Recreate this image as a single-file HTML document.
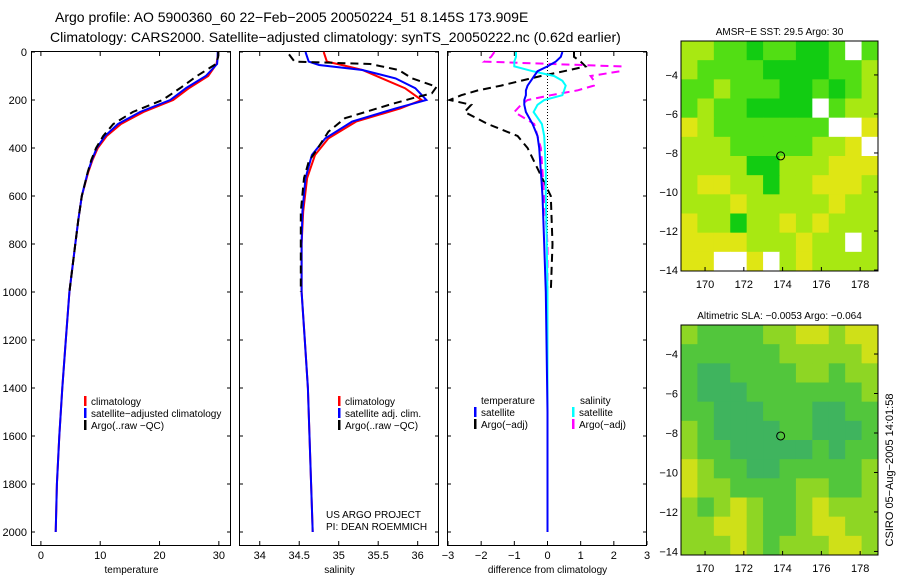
<!DOCTYPE html>
<html><head><meta charset="utf-8"><style>
body{margin:0;background:#fff;width:900px;height:580px;overflow:hidden}
svg{font-family:"Liberation Sans",sans-serif}
</style></head><body>
<svg id="fig" width="900" height="580" xmlns="http://www.w3.org/2000/svg">
<text x="55" y="22" font-size="14">Argo profile: AO 5900360_60 22−Feb−2005 20050224_51 8.145S 173.909E</text>
<text x="50" y="42" font-size="14">Climatology: CARS2000. Satellite−adjusted climatology: synTS_20050222.nc (0.62d earlier)</text>
<g id="g"></g>
<text transform="translate(893,470) rotate(-90)" text-anchor="middle" font-size="11">CSIRO 05−Aug−2005 14:01:58</text>
</svg>
<script>
const depths=[0,20,50,100,150,200,250,300,350,400,450,500,600,700,800,1000,1200,1400,1600,1800,2000];
const climT=[29.9,29.8,29.6,28.2,25.0,22.3,17.3,13.5,11.1,9.6,8.7,8.0,6.9,6.3,5.8,4.8,4.2,3.6,3.1,2.7,2.5];
const adjT=[29.8,29.8,29.7,27.8,24.5,21.8,16.7,13.0,10.8,9.4,8.6,7.9,6.9,6.3,5.8,4.8,4.2,3.6,3.1,2.7,2.5];
const argoT=[29.9,29.9,29.5,26.3,23.5,20.5,15.5,12.2,10.5,9.3,8.5,7.9,6.9,6.3,5.8,4.8,null,null,null,null,null];
const sDepth=[0,40,54,75,110,151,200,235,290,360,429,526,665,800,1000,1200,1400,1600,1800,2000];
const climS=[34.81,34.85,35.04,35.3,35.55,35.84,36.05,35.78,35.22,34.87,34.7,34.6,34.55,34.53,34.53,34.57,34.61,34.63,34.65,34.67];
const adjS=[34.58,34.62,34.75,35.3,35.72,35.97,36.11,35.72,35.17,34.83,34.66,34.58,34.54,34.53,34.53,34.57,34.61,34.63,34.65,34.67];
const argoDepth=[10,40,50,75,110,145,172,193,221,276,332,388,457,526,665,800,1000];
const argoS=[34.37,34.44,35.4,35.76,35.93,36.24,36.18,35.93,35.63,35.08,34.87,34.76,34.62,34.56,34.52,34.52,34.52];
const dDepth=[0,20,40,60,80,100,120,140,160,180,200,220,250,300,350,400,500,600,800,1000,1500,2000];
const dTsat=[0.45,0.4,0.25,0.0,-0.3,-0.4,-0.5,-0.6,-0.65,-0.65,-0.7,-0.7,-0.65,-0.45,-0.3,-0.25,-0.2,-0.15,-0.1,-0.05,0,0];
const dSsat=[-0.95,-0.95,-1.0,-1.0,-0.45,0.2,0.45,0.55,0.5,0.45,-0.1,-0.3,-0.42,-0.17,-0.1,-0.08,-0.05,-0.05,-0.02,0,0,0];
const dTargo=[0.8,0.8,1.0,1.15,0.5,-0.2,-0.8,-1.4,-2.1,-2.6,-2.95,-2.3,-2.5,-1.8,-0.9,-0.6,-0.25,0.1,0.15,0.1,null,null];
const dSargo=[-1.6,-1.7,-1.9,2.2,2.2,1.3,1.4,1.4,0.9,0.1,-0.6,-0.8,-1.0,-0.4,-0.3,-0.2,-0.15,-0.1,0,0,null,null];
const depthTicks=[0,200,400,600,800,1000,1200,1400,1600,1800,2000];
const tTicks=[0,10,20,30], sTicks=[34,34.5,35,35.5,36], dTicks=[-3,-2,-1,0,1,2,3];
const sstGrid=["2211011001W1","211110000112","112111001012","12110000W122","321111111WW3","22211111223W","222200222333","233220223332","222322222322","322022323222","33332223 2W2".replace(' ','2'),"33WW3W232222"];
const slaGrid=["211112233233","111111222223","100111122122","100011111112","110001110011","210000110001","211000001011","321100111112","322111122112","212321123222","223321123322","222321222332"];
const sstColors=["#12cc12","#52de14","#a8e812","#dfe614","#f0c814"];
const slaColors=["#3fb45e","#52c63c","#8ed624","#cfe018"];
const mapLon=[168.76,178.92], sstLat=[-2.26,-14.05], slaLat=[-2.53,-14.18];

const NS="http://www.w3.org/2000/svg", G=document.getElementById('g');
function el(t,a,p){const e=document.createElementNS(NS,t);for(const k in a)e.setAttribute(k,a[k]);(p||G).appendChild(e);return e;}
const yD=d=>52+d*0.24;
function panel(x0,x1,lo,hi,ticks,xlabel,name,fmt){
  const sx=v=>x0+(v-lo)/(hi-lo)*(x1-x0);
  const g=el('g',{});
  
  
  const r=el('rect',{x:x0-0.5,y:51.5,width:x1-x0,height:494,fill:'none',stroke:'#000'},g);
  
  
  for(const t of ticks){const X=sx(t);
    el('line',{x1:X,y1:545,x2:X,y2:541,stroke:'#000'},g);el('line',{x1:X,y1:52,x2:X,y2:56,stroke:'#000'},g);
    const tx=el('text',{x:X,y:559,'font-size':11,'text-anchor':'middle'},g);tx.textContent=fmt?fmt(t):t;
    
    }
  for(const d of depthTicks){el('line',{x1:x0-0.5,y1:yD(d),x2:x0+3,y2:yD(d),stroke:'#000'},g);el('line',{x1:x1-4,y1:yD(d),x2:x1-0.5,y2:yD(d),stroke:'#000'},g);}
  const xl=el('text',{x:(x0+x1)/2,y:573,'font-size':10,'text-anchor':'middle'},g);xl.textContent=xlabel;
  
  
  return sx;
}
function line(sx,vals,ds,color,w,dash,name){
  let d='',pen=false;
  vals.forEach((v,i)=>{if(v==null){pen=false;return;}d+=(pen?'L':'M')+sx(v).toFixed(1)+','+yD(ds[i]).toFixed(1);pen=true;});
  const p=el('path',{d:d,fill:'none',stroke:color,'stroke-width':w});
  if(dash)p.setAttribute('stroke-dasharray',dash);
  
  
}
function legend(x,y,items){items.forEach((it,i)=>{
  const yy=y+i*12;el('rect',{x:x,y:yy-9,width:2.5,height:10,fill:it[1]});
  const t=el('text',{x:x+7,y:yy,'font-size':10});t.textContent=it[0];
  
  });}
for(const d of depthTicks){const t=el('text',{x:27,y:yD(d)+4,'font-size':11,'text-anchor':'end'});t.textContent=d;
  
  }
const sT=panel(32,231,-1.5,32.05,tTicks,'temperature','temperature-panel');
line(sT,climT,depths,'#f00',2,null,'climatology-temp-line');
line(sT,adjT,depths,'#00f',2,null,'sat-adjusted-temp-line');
line(sT,argoT,depths,'#000',2,'8,5','argo-temp-line');
legend(84,405,[['climatology','#f00'],['satellite−adjusted climatology','#00f'],['Argo(..raw −QC)','#000']]);
const sS=panel(240,439,33.75,36.27,sTicks,'salinity','salinity-panel');
line(sS,climS,sDepth,'#f00',2,null,'climatology-salinity-line');
line(sS,adjS,sDepth,'#00f',2,null,'sat-adjusted-salinity-line');
line(sS,argoS,argoDepth,'#000',2,'8,5','argo-salinity-line');
legend(338,405,[['climatology','#f00'],['satellite adj. clim.','#00f'],['Argo(..raw −QC)','#000']]);
let t1=el('text',{x:326,y:518,'font-size':10});t1.textContent='US ARGO PROJECT';


let t2=el('text',{x:326,y:530,'font-size':10});t2.textContent='PI: DEAN ROEMMICH';


const sD=panel(448,647,-3,3,dTicks,'difference from climatology','difference-panel',v=>v<0?'−'+(-v):v);
el('line',{x1:sD(0),y1:52,x2:sD(0),y2:yD(1000),stroke:'#000','stroke-dasharray':'1,2'});
line(sD,dTargo,dDepth,'#000',2,'8,5','argo-temp-diff-line');
line(sD,dSargo,dDepth,'#f0f',2,'8,5','argo-salinity-diff-line');
line(sD,dSsat,dDepth,'#0ff',2,null,'sat-salinity-diff-line');
line(sD,dTsat,dDepth,'#00f',2,null,'sat-temp-diff-line');
let lt=el('text',{x:481,y:404,'font-size':10});lt.textContent='temperature';
let ls=el('text',{x:580,y:404,'font-size':10});ls.textContent='salinity';
legend(474,416,[['satellite','#00f'],['Argo(−adj)','#000']]);
legend(572,416,[['satellite','#0ff'],['Argo(−adj)','#f0f']]);

function map(y0,y1,lat,grid,cols,title,name,latTicks,lonLbl){
  const x0=681,x1=878;
  const sx=v=>x0+(v-mapLon[0])/(mapLon[1]-mapLon[0])*(x1-x0);
  const sy=v=>y0+(v-lat[0])/(lat[1]-lat[0])*(y1-y0);
  const g=el('g',{});
  
  
  const nr=grid.length,nc=grid[0].length,cw=(x1-x0)/nc,ch=(y1-y0)/nr;
  grid.forEach((row,r)=>{for(let c=0;c<nc;c++){const ch_=row[c];
    const f=ch_==='W'?'#fff':cols[+ch_];
    const rc=el('rect',{x:x0+c*cw,y:y0+r*ch,width:cw+0.5,height:ch+0.5,fill:f},g);
    
    }});
  el('rect',{x:x0,y:y0,width:x1-x0,height:y1-y0,fill:'none',stroke:'#000'},g);
  const c=el('circle',{cx:sx(173.9),cy:sy(-8.15),r:4,fill:'none',stroke:'#000'},g);
  
  
  for(const l of latTicks){el('line',{x1:x1-4,y1:sy(l),x2:x1,y2:sy(l),stroke:'#000'},g);
    const t=el('text',{x:x0-3,y:sy(l)+4,'font-size':11,'text-anchor':'end'},g);t.textContent='−'+(-l);}
  if(lonLbl)for(const L of [170,172,174,176,178]){el('line',{x1:sx(L),y1:y1,x2:sx(L),y2:y1-4,stroke:'#000'},g);
    const t=el('text',{x:sx(L),y:y1+17,'font-size':11,'text-anchor':'middle'},g);t.textContent=L;}
  const tt=el('text',{x:(x0+x1)/2,y:y0-6,'font-size':10,'text-anchor':'middle'},g);tt.textContent=title;
  
  
}
map(41,271,sstLat,sstGrid,sstColors,'AMSR−E SST: 29.5 Argo: 30','sst-map',[-4,-6,-8,-10,-12,-14],true);
map(325,555,slaLat,slaGrid,slaColors,'Altimetric SLA: −0.0053 Argo: −0.064','sla-map',[-4,-6,-8,-10,-12,-14],true);
</script>
</body></html>
